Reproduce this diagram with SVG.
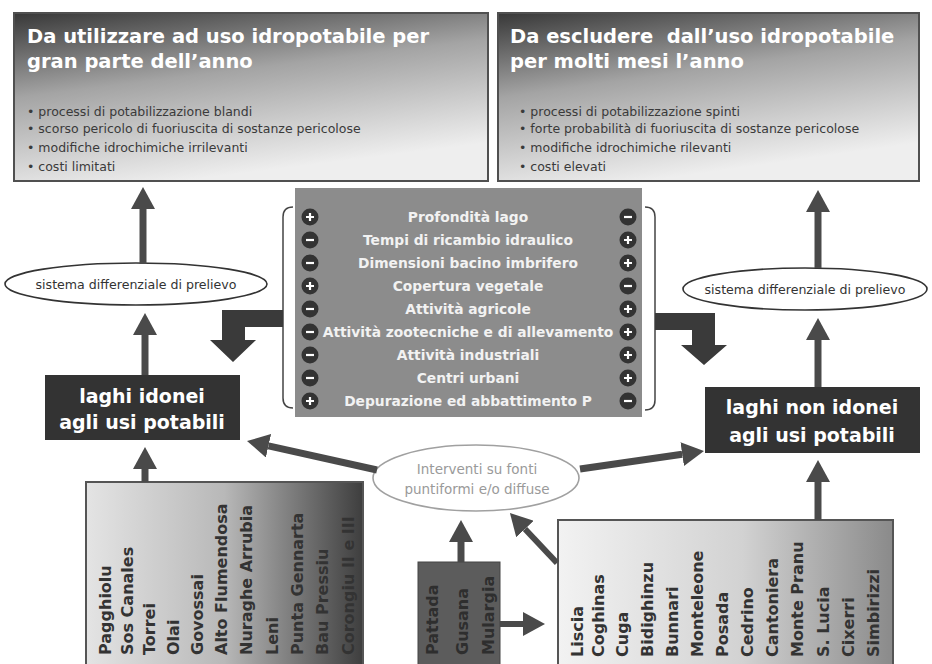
<svg xmlns="http://www.w3.org/2000/svg" xmlns:xlink="http://www.w3.org/1999/xlink" width="932" height="664" viewBox="0 0 932 664">
<style>
text{font-family:"DejaVu Sans",Verdana,"Liberation Sans",sans-serif}
.ttl{font-size:19.5px;font-weight:bold;fill:#fff}
.bul{font-size:12.5px;fill:#3a3a3a}
.row{font-size:13.8px;font-weight:bold;fill:#f2f2f2;text-anchor:middle}
.lago{font-size:19px;font-weight:bold;fill:#fff;text-anchor:middle}
.ell{font-size:12.6px;fill:#333;text-anchor:middle}
.ell2{font-size:13.5px;fill:#9a9a9a;text-anchor:middle}
.col{font-size:16px;font-weight:bold;fill:#333}
.colm{font-size:16px;font-weight:bold;fill:#2e2e2e}
.ar{stroke:#4a4a4a;stroke-width:7;fill:none;marker-end:url(#head)}
.ar2{stroke:#4a4a4a;stroke-width:6;fill:none;marker-end:url(#head)}
.dk{fill:#3a3a3a}
.sig{stroke:#fff;stroke-width:2.2;fill:none}
</style>
<defs>
<marker id="head" viewBox="0 0 22 24" refX="0" refY="12" markerWidth="22" markerHeight="24" markerUnits="userSpaceOnUse" orient="auto">
<path d="M0,0 L22,12 L0,24 z" fill="#4a4a4a"/>
</marker>
<linearGradient id="gTop" x1="0" y1="0" x2="0.35" y2="1">
<stop offset="0" stop-color="#383838"/>
<stop offset="0.45" stop-color="#a4a4a4"/>
<stop offset="1" stop-color="#eeeeee"/>
</linearGradient>
<linearGradient id="gBL" x1="0" y1="0" x2="1" y2="0">
<stop offset="0" stop-color="#e4e4e4"/>
<stop offset="0.5" stop-color="#b8b8b8"/>
<stop offset="1" stop-color="#3e3e3e"/>
</linearGradient>
<linearGradient id="gBR" x1="0" y1="0" x2="1" y2="0">
<stop offset="0" stop-color="#f2f2f2"/>
<stop offset="0.55" stop-color="#d2d2d2"/>
<stop offset="1" stop-color="#8a8a8a"/>
</linearGradient>
<g id="plus"><circle r="8.5" fill="#333"/><path class="sig" d="M-4,0 H4 M0,-4 V4"/></g>
<g id="minus"><circle r="8.5" fill="#333"/><path class="sig" d="M-4,0 H4"/></g>
</defs>
<rect width="932" height="664" fill="#fff"/>

<g id="box-top-left">
<rect x="14" y="13" width="474" height="168" fill="url(#gTop)" stroke="#505050" stroke-width="2"/>
<text class="ttl" x="27" y="43">Da utilizzare ad uso idropotabile per</text>
<text class="ttl" x="27" y="68">gran parte dell’anno</text>
<text class="bul" x="27" y="116">• processi di potabilizzazione blandi</text>
<text class="bul" x="27" y="133">• scorso pericolo di fuoriuscita di sostanze pericolose</text>
<text class="bul" x="27" y="152">• modifiche idrochimiche irrilevanti</text>
<text class="bul" x="27" y="171">• costi limitati</text>
</g>

<g id="box-top-right">
<rect x="498" y="13" width="421" height="168" fill="url(#gTop)" stroke="#505050" stroke-width="2"/>
<text class="ttl" x="510" y="43" xml:space="preserve">Da escludere  dall’uso idropotabile</text>
<text class="ttl" x="510" y="68">per molti mesi l’anno</text>
<text class="bul" x="519" y="116">• processi di potabilizzazione spinti</text>
<text class="bul" x="519" y="133">• forte probabilità di fuoriuscita di sostanze pericolose</text>
<text class="bul" x="519" y="152">• modifiche idrochimiche rilevanti</text>
<text class="bul" x="519" y="171">• costi elevati</text>
</g>

<g id="factors">
<rect x="295" y="188" width="347" height="229" fill="#8c8c8c"/>
<path d="M293,207 Q283,207 283,217 L283,398 Q283,408 293,408" fill="none" stroke="#444" stroke-width="1.5"/>
<path d="M645,207 Q655,207 655,217 L655,400 Q655,410 645,410" fill="none" stroke="#444" stroke-width="1.5"/>
<text class="row" x="468" y="222">Profondità lago</text>
<text class="row" x="468" y="245">Tempi di ricambio idraulico</text>
<text class="row" x="468" y="268">Dimensioni bacino imbrifero</text>
<text class="row" x="468" y="291">Copertura vegetale</text>
<text class="row" x="468" y="314">Attività agricole</text>
<text class="row" x="468" y="337">Attività zootecniche e di allevamento</text>
<text class="row" x="468" y="360">Attività industriali</text>
<text class="row" x="468" y="383">Centri urbani</text>
<text class="row" x="468" y="406">Depurazione ed abbattimento P</text>
<use xlink:href="#plus" x="310" y="217"/>
<use xlink:href="#minus" x="310" y="240"/>
<use xlink:href="#minus" x="310" y="263"/>
<use xlink:href="#plus" x="310" y="286"/>
<use xlink:href="#minus" x="310" y="309"/>
<use xlink:href="#minus" x="310" y="332"/>
<use xlink:href="#minus" x="310" y="355"/>
<use xlink:href="#minus" x="310" y="378"/>
<use xlink:href="#plus" x="310" y="401"/>
<use xlink:href="#minus" x="628" y="217"/>
<use xlink:href="#plus" x="628" y="240"/>
<use xlink:href="#plus" x="628" y="263"/>
<use xlink:href="#minus" x="628" y="286"/>
<use xlink:href="#plus" x="628" y="309"/>
<use xlink:href="#plus" x="628" y="332"/>
<use xlink:href="#plus" x="628" y="355"/>
<use xlink:href="#plus" x="628" y="378"/>
<use xlink:href="#minus" x="628" y="401"/>
</g>

<g id="ellipse-left">
<ellipse cx="136" cy="284" rx="131" ry="21" fill="#fff" stroke="#333" stroke-width="1.6"/>
<text class="ell" x="136" y="288.5">sistema differenziale di prelievo</text>
</g>

<g id="ellipse-right">
<ellipse cx="805" cy="289" rx="122" ry="21" fill="#fff" stroke="#333" stroke-width="1.6"/>
<text class="ell" x="805" y="293.5">sistema differenziale di prelievo</text>
</g>

<g id="laghi-idonei">
<rect x="45" y="375" width="195" height="65" fill="#333"/>
<text class="lago" x="142" y="403">laghi idonei</text>
<text class="lago" x="142" y="429">agli usi potabili</text>
</g>

<g id="laghi-non-idonei">
<rect x="705" y="387" width="215" height="66" fill="#333"/>
<text class="lago" x="812" y="414">laghi non idonei</text>
<text class="lago" x="812" y="442">agli usi potabili</text>
</g>

<g id="interventi">
<ellipse cx="476" cy="478" rx="103" ry="33" fill="#fff" stroke="#a0a0a0" stroke-width="1.6"/>
<text class="ell2" x="477" y="474">Interventi su fonti</text>
<text class="ell2" x="477" y="494">puntiformi e/o diffuse</text>
</g>

<g id="box-bottom-left">
<rect x="86" y="482" width="277" height="190" fill="url(#gBL)" stroke="#555" stroke-width="2"/>
<text class="col" transform="translate(111,655) rotate(-90)">Pagghiolu</text>
<text class="col" transform="translate(133,655) rotate(-90)">Sos Canales</text>
<text class="col" transform="translate(155,655) rotate(-90)">Torrei</text>
<text class="col" transform="translate(179,655) rotate(-90)">Olai</text>
<text class="col" transform="translate(203,655) rotate(-90)">Govossai</text>
<text class="col" transform="translate(227,655) rotate(-90)">Alto Flumendosa</text>
<text class="col" transform="translate(252,655) rotate(-90)">Nuraghe Arrubia</text>
<text class="col" transform="translate(278,655) rotate(-90)">Leni</text>
<text class="col" transform="translate(303,655) rotate(-90)">Punta Gennarta</text>
<text class="col" transform="translate(328,655) rotate(-90)">Bau Pressiu</text>
<text class="col" transform="translate(354,655) rotate(-90)">Corongiu II e III</text>
</g>

<g id="box-bottom-middle">
<rect x="418" y="562" width="82" height="110" fill="#5c5c5c" stroke="#444" stroke-width="1"/>
<text class="colm" transform="translate(438,655) rotate(-90)">Pattada</text>
<text class="colm" transform="translate(468,655) rotate(-90)">Gusana</text>
<text class="colm" transform="translate(494,655) rotate(-90)">Mulargia</text>
</g>

<g id="box-bottom-right">
<rect x="558" y="520" width="335" height="152" fill="url(#gBR)" stroke="#555" stroke-width="2"/>
<text class="col" transform="translate(583,657) rotate(-90)">Liscia</text>
<text class="col" transform="translate(604,657) rotate(-90)">Coghinas</text>
<text class="col" transform="translate(628,657) rotate(-90)">Cuga</text>
<text class="col" transform="translate(653,657) rotate(-90)">Bidighinzu</text>
<text class="col" transform="translate(678,657) rotate(-90)">Bunnari</text>
<text class="col" transform="translate(703,657) rotate(-90)">Monteleone</text>
<text class="col" transform="translate(728,657) rotate(-90)">Posada</text>
<text class="col" transform="translate(753,657) rotate(-90)">Cedrino</text>
<text class="col" transform="translate(778,657) rotate(-90)">Cantoniera</text>
<text class="col" transform="translate(803,657) rotate(-90)">Monte Pranu</text>
<text class="col" transform="translate(829,657) rotate(-90)">S. Lucia</text>
<text class="col" transform="translate(854,657) rotate(-90)">Cixerri</text>
<text class="col" transform="translate(879,657) rotate(-90)">Simbirizzi</text>
</g>

<g id="connectors">
<path class="ar" d="M143,264 V209"/>
<path class="ar" d="M145,375 V335"/>
<path class="ar" d="M145,482 V469"/>
<path class="ar" d="M818,268 V212"/>
<path class="ar" d="M818,387 V340"/>
<path class="ar" d="M818,520 V482"/>
<path class="ar" d="M461,562 V542"/>
<path class="ar2" d="M557,563 L525,529"/>
<path class="ar" d="M377,470 L268.5,445.8"/>
<path class="ar" d="M580,469 L682.2,454.2"/>
<path class="ar2" d="M500,624 H523"/>
<polygon class="dk" points="283,310 222,310 222,340 210,340 233,362 256,340 245,340 245,327 283,327"/>
<polygon class="dk" points="655,313 715,313 715,345 727,345 704,365 681,345 692,345 692,330 655,330"/>
</g>
</svg>
